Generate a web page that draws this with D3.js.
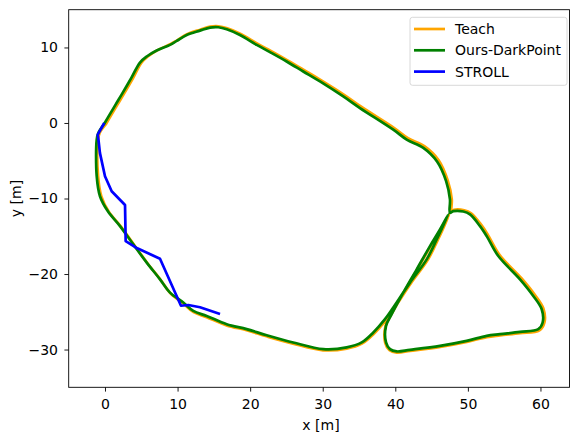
<!DOCTYPE html>
<meta charset="utf-8">
<head>
    <title>Trajectories</title>
    <script src="https://cdn.jsdelivr.net/npm/d3@7"></script>
</head>
<style>
    body { margin: 0; background: white; }
    svg { font-family: "DejaVu Sans", sans-serif; }
    .path { fill: none; stroke-width: 2.7px; stroke-linejoin: round; }
</style>
<svg></svg>
<script>
    var vWidth = 572;
    var vHeight = 434;

    var seriesNames = ["Teach", "Ours-DarkPoint", "STROLL"];
    var seriesColors = ["orange", "green", "blue"];
    var xTicks = [0, 10, 20, 30, 40, 50, 60];
    var yTicks = [10, 0, -10, -20, -30];

    var teachX = [0.1, 0.9, 1.7, 2.55, 3.85, 5.0, 5.9, 7.25, 9.05, 9.95, 11.3, 13.1, 14.5, 15.65, 16.85, 18.7,
        21.0, 22.85, 25.15, 27.45, 29.75, 33.0, 35.3, 39.9, 41.75, 44.05, 45.95, 47.22, 47.78, 47.75,
        48.1, 49.5, 50.45, 51.85, 52.78, 54.38, 57.38, 59.22, 60.4, 60.55, 59.85, 57.2, 54.45, 52.6,
        49.85, 46.2, 42.05, 40.2, 39.2, 38.62, 38.65, 39.45, 41.1, 42.98, 44.85, 46.25, 47.45,
        45.9, 44.52, 42.2, 39.88, 38.7, 37.05, 35.4, 33.3, 30.05, 25.9, 22.25, 19.5, 16.75, 14.0,
        12.2, 10.85, 9.05, 7.7, 5.88, 4.05, 2.22, 0.55, -0.5, -0.95, -0.95, -0.72, 0.1];
    var teachY = [-0.2, 1.1, 2.4, 3.75, 5.9, 7.95, 8.8, 9.65, 10.45, 10.95, 11.75, 12.35, 12.75, 12.8, 12.55, 11.8,
        10.5, 9.55, 8.3, 7.0, 5.68, 3.7, 2.15, -0.7, -2.0, -3.1, -4.9, -7.6, -10.1, -11.75,
        -11.5, -11.55, -11.95, -13.5, -14.85, -17.48, -20.55, -22.75, -24.55, -26.4, -27.45, -27.82, -28.12, -28.35,
        -29.0, -29.65, -30.18, -30.4, -30.1, -29.15, -26.9, -25.35, -22.55, -19.45, -16.35, -14.1, -12.05,
        -15.4, -18.05, -21.15, -24.5, -26.1, -27.9, -29.22, -29.88, -30.1, -29.22, -28.25, -27.45, -26.8, -25.72,
        -25.05, -23.95, -22.6, -20.82, -18.6, -16.18, -13.75, -11.8, -9.72, -7.05, -2.2, -1.3, -0.2];

    var oursX = [-0.1, 0.7, 1.5, 2.35, 3.65, 4.82, 5.75, 7.12, 8.96, 9.88, 11.26, 13.09, 14.47, 15.61, 16.77, 18.6,
        20.9, 22.73, 25.03, 27.32, 29.62, 32.83, 35.13, 39.72, 41.57, 43.86, 45.75, 47.0, 47.53, 47.53,
        47.99, 49.37, 50.29, 51.67, 52.59, 54.19, 57.18, 59.01, 60.17, 60.3, 59.7, 57.18, 54.42, 52.59,
        49.83, 46.16, 42.02, 40.19, 39.27, 38.72, 38.72, 39.5, 41.1, 42.95, 44.78, 46.16, 47.3,
        45.7, 44.32, 42.02, 39.72, 38.58, 36.97, 35.37, 33.3, 30.08, 25.94, 22.28, 19.52, 16.77, 14.01,
        12.17, 10.79, 8.96, 7.58, 5.75, 3.9, 2.07, 0.4, -0.69, -1.14, -1.14, -0.92, -0.1];
    var oursY = [-0.1, 1.2, 2.5, 3.85, 6.0, 8.0, 8.8, 9.59, 10.34, 10.87, 11.66, 12.23, 12.63, 12.68, 12.42, 11.66,
        10.34, 9.38, 8.14, 6.82, 5.5, 3.51, 1.98, -0.89, -2.2, -3.3, -5.1, -7.7, -10.13, -11.89,
        -11.68, -11.72, -12.11, -13.66, -14.98, -17.62, -20.7, -22.9, -24.66, -26.42, -27.3, -27.66, -27.97, -28.19,
        -28.85, -29.51, -30.04, -30.25, -29.95, -29.06, -26.87, -25.32, -22.46, -19.38, -16.3, -14.1, -12.11,
        -15.42, -18.06, -21.14, -24.44, -25.98, -27.74, -29.06, -29.72, -29.95, -29.06, -28.1, -27.3, -26.65, -25.55,
        -24.89, -23.78, -22.46, -20.7, -18.49, -16.08, -13.66, -11.7, -9.7, -7.05, -2.2, -1.32, -0.1];

    var strollX = [-0.1, -1.0, -0.9, -0.7, 0.0, 0.92, 2.76, 2.85, 4.45, 7.58, 10.47, 11.48, 13.09, 15.85];
    var strollY = [0.0, -1.55, -2.2, -3.96, -7.05, -9.04, -10.86, -15.64, -16.6, -17.97, -24.2, -24.1, -24.4, -25.3];

    var series = [
        {name: seriesNames[0], color: seriesColors[0], xs: teachX, ys: teachY, smooth: true},
        {name: seriesNames[1], color: seriesColors[1], xs: oursX, ys: oursY, smooth: true},
        {name: seriesNames[2], color: seriesColors[2], xs: strollX, ys: strollY, smooth: false}
    ];

    var svg = d3.select('svg').attr('width', vWidth).attr('height', vHeight);

    // scales
    var x = d3.scaleLinear().domain([-5, 64]).range([68.7, 569.5]);
    var y = d3.scaleLinear().domain([-35, 15]).range([387.3, 9.7]);

    // data lines (recorded trajectories are dense, so smooth the sparse read-off points)
    var lineSmooth = d3.line().curve(d3.curveCatmullRom.alpha(0.5))
        .x(function (d) { return x(d[0]); })
        .y(function (d) { return y(d[1]); });
    var lineStraight = d3.line()
        .x(function (d) { return x(d[0]); })
        .y(function (d) { return y(d[1]); });

    svg.append('g').selectAll('path').data(series).enter().append('path')
        .attr('class', 'path')
        .attr('stroke', function (d) { return d.color; })
        .attr('d', function (d) {
            var pts = d3.zip(d.xs, d.ys);
            return d.smooth ? lineSmooth(pts) : lineStraight(pts);
        });

    // axes
    var fmt = function (d) { return d < 0 ? '\u2212' + Math.abs(d) : String(d); };
    var xAxis = svg.append('g').attr('transform', 'translate(0,387.3)')
        .call(d3.axisBottom(x).tickValues(xTicks).tickSize(4.3).tickPadding(7).tickFormat(fmt));
    var yAxis = svg.append('g').attr('transform', 'translate(68.7,0)')
        .call(d3.axisLeft(y).tickValues(yTicks).tickSize(4.3).tickPadding(6.4).tickFormat(fmt));
    [xAxis, yAxis].forEach(function (a) {
        a.select('.domain').remove();
        a.selectAll('line').attr('stroke', 'black').attr('stroke-width', 0.9);
        a.selectAll('text').attr('fill', 'black').style('font-size', '14px').style('font-family', '"DejaVu Sans"');
    });

    // frame
    svg.append('rect').attr('x', 68.7).attr('y', 9.7).attr('width', 569.5 - 68.7).attr('height', 387.3 - 9.7)
        .attr('fill', 'none').attr('stroke', 'black').attr('stroke-width', 0.9);

    // axis labels
    svg.append('text').attr('x', 321).attr('y', 429.5).attr('text-anchor', 'middle')
        .style('font-size', '14px').text('x [m]');
    svg.append('text').attr('transform', 'translate(20.7,' + ((9.7 + 387.3) / 2) + ') rotate(-90)')
        .attr('text-anchor', 'middle').style('font-size', '14px').text('y [m]');

    // legend
    var lg = svg.append('g').attr('transform', 'translate(410,17.3)');
    lg.append('rect').attr('width', 157).attr('height', 68).attr('rx', 2.5)
        .attr('fill', 'white').attr('fill-opacity', 0.8).attr('stroke', '#d4d4d4').attr('stroke-width', 0.9);
    var rows = lg.selectAll('g.row').data(series).enter().append('g')
        .attr('transform', function (d, i) { return 'translate(0,' + (11.7 + i * 21.3) + ')'; });
    rows.append('line').attr('x1', 4).attr('x2', 35).attr('y1', 0).attr('y2', 0)
        .attr('stroke', function (d) { return d.color; }).attr('stroke-width', 2.7);
    rows.append('text').attr('x', 45).attr('y', 5).style('font-size', '14px')
        .text(function (d) { return d.name; });
</script>
